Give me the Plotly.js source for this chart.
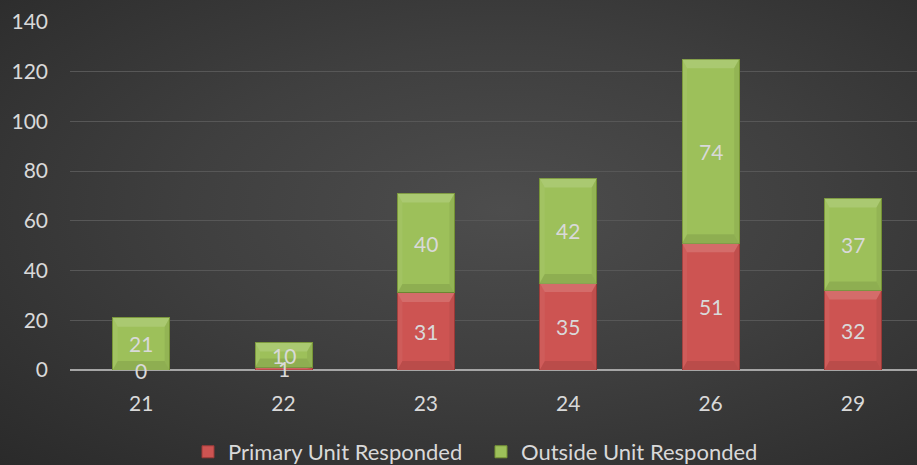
<!DOCTYPE html>
<html><head><meta charset="utf-8">
<script src="https://cdn.plot.ly/plotly-3.0.1.min.js"></script>
<style>
html,body{margin:0;padding:0;width:917px;height:465px;overflow:hidden;
background:radial-gradient(ellipse at 55% 45%, #4d4d4d 0%, #3f3f3f 45%, #2a2a2a 100%);}
#chart{width:917px;height:465px;}
</style></head><body>
<div id="chart"></div>
<script>
const categories = ['21','22','23','24','26','29'];
const primary = [0, 1, 31, 35, 51, 32];
const outside = [21, 10, 40, 42, 74, 37];
const yTicks = [0,20,40,60,80,100,120,140];
const seriesNames = ['Primary Unit Responded','Outside Unit Responded'];

const font = 'Lato, "Open Sans", sans-serif';
const txtCol = '#d9d9d9';
const barW = 0.4;

const traces = [
  {type:'bar', x:categories, y:primary, name:seriesNames[0],
   marker:{color:'#cd5452', line:{color:'#9e3b39', width:1}}, width:barW,
   hoverinfo:'none'},
  {type:'bar', x:categories, y:outside, name:seriesNames[1],
   marker:{color:'#9dc05a', line:{color:'#779536', width:1}}, width:barW,
   hoverinfo:'none'}
];

// data labels (annotations: on a category axis x is the category's serial index)
const annotations = [];
categories.forEach((c,i)=>{
  annotations.push({x:i, y:primary[i]/2, xref:'x', yref:'y', text:String(primary[i]),
    showarrow:false, font:{family:font, size:21, color:txtCol}});
  annotations.push({x:i, y:primary[i]+outside[i]/2, xref:'x', yref:'y', text:String(outside[i]),
    showarrow:false, font:{family:font, size:21, color:txtCol}});
});

// soft bevel shading derived from the stacked segments
const shapes = [];
function bevel(i, y0, y1){
  const h = y1 - y0;
  if (h <= 0) return;
  const x0 = i - barW/2, x1 = i + barW/2;
  const dx = 0.035;
  const dy = Math.min(3.6, h/2);
  const p = pts => 'M' + pts.map(q=>q[0]+','+q[1]).join(' L') + ' Z';
  const add = (d, c) => shapes.push({type:'path', path:d, xref:'x', yref:'y',
    fillcolor:c, line:{width:0}, layer:'above'});
  add(p([[x0,y1],[x1,y1],[x1-dx,y1-dy],[x0+dx,y1-dy]]), 'rgba(255,255,255,0.14)');
  add(p([[x0,y0],[x1,y0],[x1-dx,y0+dy],[x0+dx,y0+dy]]), 'rgba(0,0,0,0.09)');
  add(p([[x0,y0],[x0+dx,y0+dy],[x0+dx,y1-dy],[x0,y1]]), 'rgba(255,255,255,0.05)');
  add(p([[x1,y0],[x1-dx,y0+dy],[x1-dx,y1-dy],[x1,y1]]), 'rgba(0,0,0,0.06)');
}
categories.forEach((c,i)=>{
  bevel(i, 0, primary[i]);
  bevel(i, primary[i], primary[i]+outside[i]);
});

const layout = {
  width:917, height:465,
  margin:{l:70, r:0, t:22, b:95},
  paper_bgcolor:'rgba(0,0,0,0)', plot_bgcolor:'rgba(0,0,0,0)',
  barmode:'stack',
  showlegend:true,
  shapes:shapes,
  annotations:annotations,
  font:{family:font, color:txtCol, size:18},
  xaxis:{type:'category', range:[-0.5,5.45], showgrid:false, zeroline:false,
    showline:false, ticks:'', ticklabelstandoff:19,
    tickfont:{family:font, size:21, color:txtCol}},
  yaxis:{range:[0,140], tickvals:yTicks, showgrid:true, gridcolor:'#575757', gridwidth:1,
    zeroline:true, zerolinecolor:'#a6a6a6', zerolinewidth:2.5, showline:false,
    ticks:'', ticklabelstandoff:21,
    tickfont:{family:font, size:21, color:txtCol}},
  legend:{orientation:'h', x:0.1393, xanchor:'left', xref:'paper',
    yref:'container', y:0.028, yanchor:'middle',
    entrywidth:248, entrywidthmode:'pixels',
    font:{family:font, size:22, color:txtCol}, traceorder:'normal',
    itemwidth:30, bgcolor:'rgba(0,0,0,0)'}
};
Plotly.newPlot('chart', traces, layout, {staticPlot:true, displayModeBar:false});
</script></body></html>
